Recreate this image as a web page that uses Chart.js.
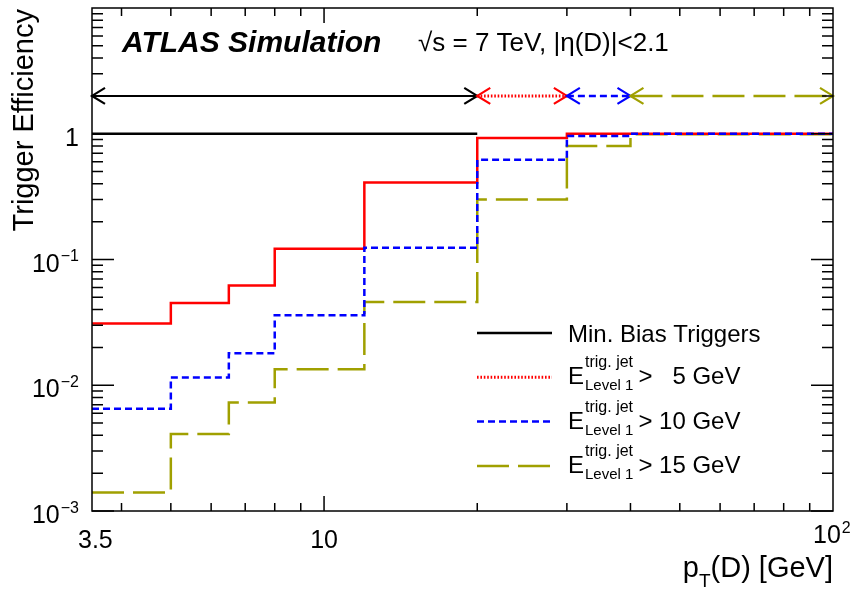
<!DOCTYPE html>
<html>
<head>
<meta charset="utf-8">
<script src="https://cdn.jsdelivr.net/npm/chart.js@4/dist/chart.umd.min.js"></script>
<style>
  html, body { margin: 0; padding: 0; background: #fff; }
</style>
</head>
<body>
<canvas id="effChart" width="850" height="592"></canvas>
<script>
(function () {
  'use strict';

  /* ── data ─────────────────────────────────────── */
  var binEdges = [3.5, 5, 6.5, 8, 12, 20, 30, 40, 100];
  var effJet5  = [0.031, 0.045, 0.062, 0.122, 0.41, 0.925, 1.0, 1.0];
  var effJet10 = [0.0065, 0.0115, 0.018, 0.036, 0.124, 0.62, 0.96, 1.0];
  var effJet15 = [0.0014, 0.0041, 0.0073, 0.0134, 0.046, 0.30, 0.80, 0.99];
  var minBiasEdges = [3.5, 20];
  var effMinBias = [1.0];

  // ranges where each trigger is used (double arrows)
  var arrowY = 2;
  var rangeMinBias = [3.5, 20];
  var rangeJet5 = [20, 30];
  var rangeJet10 = [30, 40];
  var rangeJet15 = [40, 100];

  var jetThresholds = [5, 10, 15];
  var minBiasLabel = 'Min. Bias Triggers';

  var xTickValues = [3.5, 10, 100];
  var xTickLabels = ['3.5', '10', '10^2'];
  var yTickValues = [0.001, 0.01, 0.1, 1];
  var yTickLabels = ['10^\u22123', '10^\u22122', '10^\u22121', '1'];

  /* ── styles ───────────────────────────────────── */
  var FONT = "'Liberation Sans', Arial, Helvetica, sans-serif";
  var RED = '#ff0000', BLUE = '#0000ff', OLIVE = '#a0a000', BLACK = '#000000';
  var DOT = [1.6, 1.8], DASH = [7, 4], LONG = [32, 9];

  function steps(edges, vals) {
    var pts = [];
    for (var i = 0; i < vals.length; i++) pts.push({ x: edges[i], y: vals[i] });
    pts.push({ x: edges[edges.length - 1], y: vals[vals.length - 1] });
    return pts;
  }
  function arrow(range) {
    return [{ x: range[0], y: arrowY }, { x: range[1], y: arrowY }];
  }
  function hist(data, color, dash, order, width) {
    return { data: data, borderColor: color, borderDash: dash, borderWidth: width || 2.5,
             stepped: 'before', pointRadius: 0, fill: false, order: order };
  }
  function arr(range, color, dash, width) {
    var ds = hist(arrow(range), color, dash, 0, width || 2);
    ds.isArrow = true;
    return ds;
  }

  /* ── helpers for ROOT-like text ───────────────── */
  function powWidth(ctx, txt, size) {
    var p = txt.split('^');
    ctx.font = size + 'px ' + FONT;
    var w = ctx.measureText(p[0]).width;
    if (p[1]) { ctx.font = Math.round(size * 0.64) + 'px ' + FONT; w += ctx.measureText(p[1]).width + 1; }
    return w;
  }
  function drawPow(ctx, txt, x, y, size) {
    var p = txt.split('^');
    ctx.textAlign = 'left';
    ctx.font = size + 'px ' + FONT;
    ctx.fillText(p[0], x, y);
    if (p[1]) {
      var w = ctx.measureText(p[0]).width;
      ctx.font = Math.round(size * 0.64) + 'px ' + FONT;
      ctx.fillText(p[1], x + w + 1, y - size * 0.42);
    }
  }

  var legendRows = [
    { style: BLACK, dash: [], width: 2.5, text: minBiasLabel },
    { style: RED, dash: DOT, width: 3, thr: jetThresholds[0] },
    { style: BLUE, dash: DASH, width: 2.5, thr: jetThresholds[1] },
    { style: OLIVE, dash: LONG, width: 2.5, thr: jetThresholds[2] }
  ];

  var rootFrame = {
    id: 'rootFrame',
    afterDatasetsDraw: function (chart) {
      var ctx = chart.ctx, a = chart.chartArea;
      var xs = chart.scales.x, ys = chart.scales.y;
      var e, m, p, len, i;
      ctx.save();

      // arrowheads
      chart.data.datasets.forEach(function (ds, di) {
        if (!ds.isArrow) return;
        var pts = chart.getDatasetMeta(di).data;
        var p0 = pts[0], p1 = pts[pts.length - 1];
        ctx.strokeStyle = ds.borderColor; ctx.lineWidth = 2.2; ctx.setLineDash([]);
        ctx.beginPath();
        ctx.moveTo(p0.x + 13, p0.y - 8); ctx.lineTo(p0.x, p0.y); ctx.lineTo(p0.x + 13, p0.y + 8);
        ctx.moveTo(p1.x - 13, p1.y - 8); ctx.lineTo(p1.x, p1.y); ctx.lineTo(p1.x - 13, p1.y + 8);
        ctx.stroke();
      });

      // frame
      ctx.strokeStyle = BLACK; ctx.lineWidth = 1.5; ctx.setLineDash([]);
      ctx.strokeRect(a.left, a.top, a.right - a.left, a.bottom - a.top);

      // ticks
      ctx.beginPath();
      for (e = -3; e <= 0; e++) {
        for (m = 1; m <= 9; m++) {
          p = ys.getPixelForValue(m * Math.pow(10, e));
          if (p < a.top) continue;
          len = m === 1 ? 22 : 11;
          ctx.moveTo(a.left, p); ctx.lineTo(a.left + len, p);
          ctx.moveTo(a.right, p); ctx.lineTo(a.right - len, p);
        }
      }
      for (e = 0; e <= 1; e++) {
        for (m = 1; m <= 9; m++) {
          var v = m * Math.pow(10, e);
          if (v <= xs.min || v >= xs.max) continue;
          p = xs.getPixelForValue(v);
          len = m === 1 ? 15 : 8;
          ctx.moveTo(p, a.bottom); ctx.lineTo(p, a.bottom - len);
          ctx.moveTo(p, a.top); ctx.lineTo(p, a.top + len);
        }
      }
      ctx.stroke();

      // tick labels
      ctx.fillStyle = BLACK;
      ctx.textBaseline = 'alphabetic';
      for (i = 0; i < yTickValues.length; i++) {
        p = ys.getPixelForValue(yTickValues[i]);
        var w = powWidth(ctx, yTickLabels[i], 25);
        drawPow(ctx, yTickLabels[i], a.left - 13 - w, p + 12, 25);
      }
      for (i = 0; i < xTickValues.length; i++) {
        p = xs.getPixelForValue(xTickValues[i]);
        var wx = powWidth(ctx, xTickLabels[i], 25);
        var sx = p - wx / 2;
        var raise = 0;
        if (xTickLabels[i].indexOf('^') >= 0) { sx = p - 20; raise = 5; }
        if (sx < a.left - 14) sx = a.left - 14;
        drawPow(ctx, xTickLabels[i], sx, a.bottom + 37 - raise, 25);
      }

      // axis titles
      ctx.font = '29px ' + FONT;
      ctx.save();
      ctx.translate(a.left - 59, a.top + 1);
      ctx.rotate(-Math.PI / 2);
      ctx.textAlign = 'right';
      ctx.fillText('Trigger Efficiency', 0, 0);
      ctx.restore();

      ctx.textAlign = 'left';
      ctx.font = '29px ' + FONT;
      var wP = ctx.measureText('p').width, wRest = ctx.measureText('(D) [GeV]').width;
      ctx.font = '19px ' + FONT;
      var wT = ctx.measureText('T').width;
      var x0 = a.right - wP - wT - wRest;
      var by = a.bottom + 66;
      ctx.font = '29px ' + FONT;
      ctx.fillText('p', x0, by);
      ctx.fillText('(D) [GeV]', x0 + wP + wT, by);
      ctx.font = '19px ' + FONT;
      ctx.fillText('T', x0 + wP, by + 10);

      // labels in the frame
      ctx.font = 'italic bold 30px ' + FONT;
      ctx.fillText('ATLAS Simulation', a.left + 30, a.top + 44);
      ctx.font = '26px ' + FONT;
      ctx.fillText('\u221As = 7 TeV, |\u03B7(D)|<2.1', a.left + 326, a.top + 43);

      // legend
      var lx0 = 477, lx1 = 552, tx = 568, ry = 333, step = 44.3;
      legendRows.forEach(function (row, k) {
        var cy = ry + k * step;
        ctx.strokeStyle = row.style; ctx.lineWidth = row.width; ctx.setLineDash(row.dash);
        ctx.beginPath(); ctx.moveTo(lx0, cy); ctx.lineTo(lx1, cy); ctx.stroke();
        ctx.setLineDash([]);
        ctx.fillStyle = BLACK;
        if (row.text) {
          ctx.font = '24px ' + FONT;
          ctx.fillText(row.text, tx, cy + 9);
          return;
        }
        ctx.font = '24px ' + FONT;
        ctx.fillText('E', tx, cy + 7);
        var wE = ctx.measureText('E').width;
        ctx.font = '16px ' + FONT;
        ctx.fillText('trig. jet', tx + wE + 1, cy - 10);
        var wSup = ctx.measureText('trig. jet').width;
        ctx.font = '15px ' + FONT;
        ctx.fillText('Level 1', tx + wE + 1, cy + 13);
        var wSub = ctx.measureText('Level 1').width;
        var gx = tx + wE + Math.max(wSup, wSub) + 6;
        ctx.font = '24px ' + FONT;
        ctx.fillText('>', gx, cy + 7);
        var num = String(row.thr);
        var nx = gx + ctx.measureText('> ').width;
        if (num.length < 2) nx += ctx.measureText('0').width;
        ctx.fillText(num + ' GeV', nx, cy + 7);
      });

      ctx.restore();
    }
  };

  new Chart(document.getElementById('effChart'), {
    type: 'line',
    data: {
      datasets: [
        hist(steps(binEdges, effJet10), BLUE, DASH, 1),
        hist(steps(binEdges, effJet5), RED, [], 2),
        hist(steps(binEdges, effJet15), OLIVE, LONG, 3),
        hist(steps(minBiasEdges, effMinBias), BLACK, [], 4, 2.4),
        arr(rangeMinBias, BLACK, []),
        arr(rangeJet5, RED, DOT, 3),
        arr(rangeJet10, BLUE, DASH, 2.5),
        arr(rangeJet15, OLIVE, LONG, 2.5)
      ]
    },
    options: {
      responsive: false,
      animation: false,
      layout: { padding: { left: 92, right: 17, top: 8, bottom: 81 } },
      plugins: { legend: { display: false }, tooltip: { enabled: false } },
      scales: {
        x: { type: 'logarithmic', min: 3.5, max: 100, display: false },
        y: { type: 'logarithmic', min: 0.001, max: 10, display: false }
      }
    },
    plugins: [rootFrame]
  });
}());
</script>
</body>
</html>
